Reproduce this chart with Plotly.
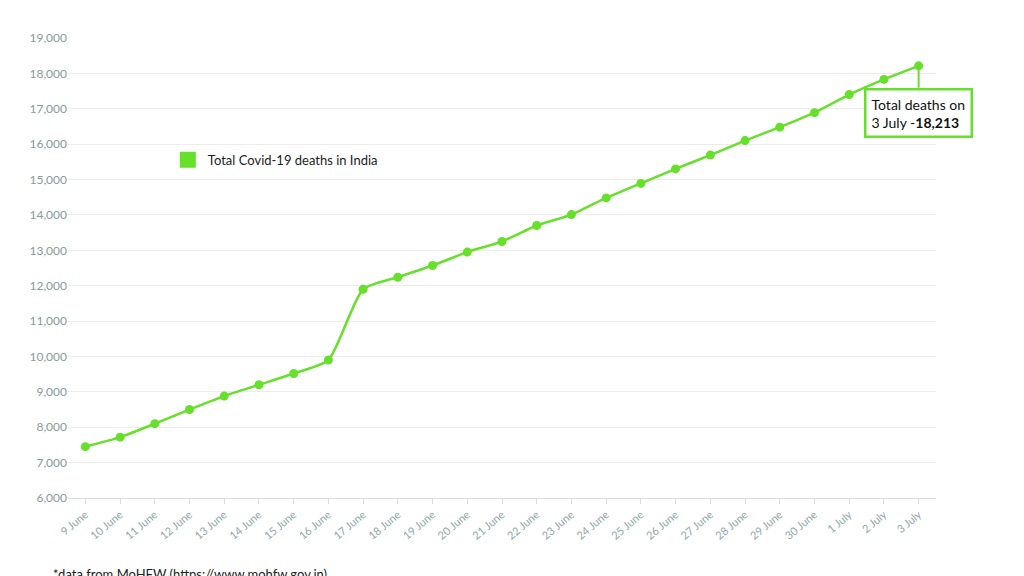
import plotly.graph_objects as go

dates = ["9 June","10 June","11 June","12 June","13 June","14 June","15 June","16 June","17 June","18 June","19 June","20 June","21 June","22 June","23 June","24 June","25 June","26 June","27 June","28 June","29 June","30 June","1 July","2 July","3 July"]
deaths = [7450,7720,8100,8500,8880,9200,9520,9900,11900,12240,12570,12950,13250,13700,14010,14480,14890,15300,15690,16100,16480,16890,17400,17830,18213]
yticks = list(range(6000, 19001, 1000))

green = "#66e02a"
fig = go.Figure()
fig.add_trace(go.Scatter(x=dates, y=deaths, mode="lines+markers", showlegend=False,
                         line=dict(color=green, width=2.5, shape="spline", smoothing=0.6),
                         marker=dict(color=green, size=9)))
fig.add_trace(go.Scatter(x=[None], y=[None], mode="markers", name="Total Covid-19 deaths in India",
                         marker=dict(color=green, size=24, symbol="square")))
fig.update_layout(
    width=1024, height=576, paper_bgcolor="white", plot_bgcolor="white",
    margin=dict(l=60, r=96, t=30, b=86),
    font=dict(family="Lato", color="#222"),
    showlegend=True,
    legend=dict(x=0.115, y=0.735, xanchor="left", yanchor="middle", font=dict(size=13), itemsizing="trace"),
    xaxis=dict(tickangle=-40, tickfont=dict(size=11, color="#8fa8a6"), showgrid=False,
               showline=True, linecolor="#ddd", ticks="outside", tickcolor="#ddd", range=[-0.5, 24.5]),
    yaxis=dict(range=[6000, 19000], tickvals=yticks, tickformat=",", tickfont=dict(size=12, color="#8a9a99"),
               gridcolor="#ececec", zeroline=False),
)
fig.add_annotation(x=dates[-1], y=deaths[-1], text="Total deaths on<br>3 July -<b>18,213</b>",
                   showarrow=True, arrowhead=0, arrowcolor=green, arrowwidth=2, ax=0, ay=22, yanchor="top",
                   xanchor="center", align="left", bordercolor=green, borderwidth=2.5, borderpad=5,
                   bgcolor="white", font=dict(size=14, color="#111"))
fig.add_annotation(xref="paper", yref="paper", x=-0.02, y=-0.165, xanchor="left", yanchor="middle", showarrow=False,
                   text="*data from MoHFW (https://www.mohfw.gov.in)", font=dict(size=13, color="#222"))
fig.write_html("out.html")
